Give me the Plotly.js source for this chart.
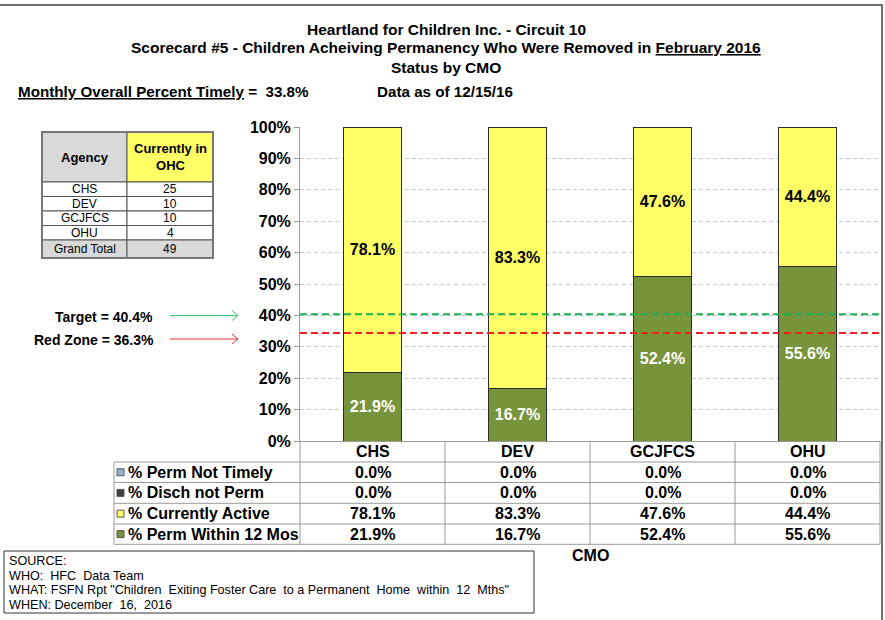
<!DOCTYPE html>
<html>
<head>
<meta charset="utf-8">
<script src="https://cdn.plot.ly/plotly-3.0.1.min.js"></script>
<style>html,body{margin:0;padding:0;background:#fff;}#chart{width:885px;height:620px;}</style>
</head>
<body>
<div id="chart"></div>
<script>
// ---------- DATA ----------
const categories = ['CHS', 'DEV', 'GCJFCS', 'OHU'];
const permWithin12Mos = [21.9, 16.7, 52.4, 55.6];
const currentlyActive = [78.1, 83.3, 47.6, 44.4];
const dischNotPerm = [0.0, 0.0, 0.0, 0.0];
const permNotTimely = [0.0, 0.0, 0.0, 0.0];
const tableRowNames = ['% Perm Not Timely', '% Disch not Perm', '% Currently Active', '% Perm Within 12 Mos'];
const targetValue = 40.4;
const targetLabel = 'Target = 40.4%';
const redZoneValue = 34.4;
const redZoneLabel = 'Red Zone = 36.3%';
const agencies = ['CHS', 'DEV', 'GCJFCS', 'OHU'];
const currentlyInOHC = [25, 10, 10, 4];
const grandTotal = 49;
const overallPercentTimely = 33.8;
const dataAsOf = '12/15/16';
const titleLines = ['Heartland for Children Inc. - Circuit 10',
  'Scorecard #5 - Children Acheiving Permanency Who Were Removed in <u>February 2016</u>',
  'Status by CMO'];
const sourceLines = ['SOURCE:', 'WHO:  HFC  Data Team',
  'WHAT: FSFN Rpt "Children  Exiting Foster Care  to a Permanent  Home  within  12  Mths"',
  'WHEN: December  16,  2016'];

// ---------- STYLE ----------
const FONT = 'Liberation Sans, Arial, sans-serif';
const YELLOW = '#FFFF66', GREEN = '#77933C', LBLUE = '#95B3D7', DARK = '#404040';
const GRID = '#9a9a9a';
// pixel -> paper helpers (plot area x:300..880, y:127..441)
const L = 300, R = 880, T = 127, B = 441;
const X = p => (p - L) / (R - L);
const Y = p => (B - p) / (B - T);

const fmt = v => v.toFixed(1) + '%';

const traces = [
  {type: 'bar', name: tableRowNames[3], x: categories, y: permWithin12Mos,
   marker: {color: GREEN, line: {color: '#2b2b2b', width: 1}},
   texttemplate: '%{y:.1f}%', textposition: 'inside', insidetextanchor: 'middle',
   constraintext: 'none', textangle: 0,
   insidetextfont: {family: FONT, size: 16, color: '#ffffff', weight: 'bold'}},
  {type: 'bar', name: tableRowNames[2], x: categories, y: currentlyActive,
   marker: {color: YELLOW, line: {color: '#2b2b2b', width: 1}},
   texttemplate: '%{y:.1f}%', textposition: 'inside', insidetextanchor: 'middle',
   constraintext: 'none', textangle: 0,
   insidetextfont: {family: FONT, size: 16, color: '#000000', weight: 'bold'}},
  {type: 'bar', name: tableRowNames[1], x: categories, y: dischNotPerm,
   marker: {color: DARK, line: {color: '#2b2b2b', width: 0}}, textposition: 'none'},
  {type: 'bar', name: tableRowNames[0], x: categories, y: permNotTimely,
   marker: {color: LBLUE, line: {color: '#2b2b2b', width: 0}}, textposition: 'none'}
];

const shapes = [];
const annotations = [];

// reference lines
shapes.push({type: 'line', xref: 'paper', yref: 'y', x0: 0, x1: 1, y0: targetValue, y1: targetValue,
  line: {color: '#1DB050', width: 2, dash: '7px,4px'}, layer: 'above'});
shapes.push({type: 'line', xref: 'paper', yref: 'y', x0: 0, x1: 1, y0: redZoneValue, y1: redZoneValue,
  line: {color: '#F02020', width: 2, dash: '7px,4px'}, layer: 'above'});

// arrows
function arrow(yPx, color) {
  const x1 = X(170), x2 = X(238), y = Y(yPx);
  const hx = X(232), hyU = Y(yPx - 5), hyD = Y(yPx + 5);
  shapes.push({type: 'path', xref: 'paper', yref: 'paper',
    path: `M${x1},${y} L${x2},${y} M${hx},${hyU} L${x2},${y} L${hx},${hyD}`,
    line: {color: color, width: 1}});
}
arrow(315.5, '#3CC46A');
arrow(339, '#E83030');
annotations.push({xref: 'paper', yref: 'paper', x: X(155), y: Y(317), xanchor: 'right', yanchor: 'middle',
  text: targetLabel, showarrow: false, font: {family: FONT, size: 14, color: '#000', weight: 'bold'}});
annotations.push({xref: 'paper', yref: 'paper', x: X(156), y: Y(340), xanchor: 'right', yanchor: 'middle',
  text: redZoneLabel, showarrow: false, font: {family: FONT, size: 14, color: '#000', weight: 'bold'}});

// ---------- data table below the plot ----------
const rowLines = [462, 482.5, 503.3, 524, 544.3];
const colLines = [445, 590, 735, 880];
rowLines.forEach(yp => shapes.push({type: 'line', xref: 'paper', yref: 'paper',
  x0: X(114), x1: X(880), y0: Y(yp), y1: Y(yp), line: {color: GRID, width: 1}}));
shapes.push({type: 'line', xref: 'paper', yref: 'paper', x0: X(114), x1: X(114), y0: Y(462), y1: Y(544.3), line: {color: GRID, width: 1}});
shapes.push({type: 'line', xref: 'paper', yref: 'paper', x0: X(300), x1: X(300), y0: Y(441), y1: Y(544.3), line: {color: GRID, width: 1}});
colLines.forEach(xp => shapes.push({type: 'line', xref: 'paper', yref: 'paper',
  x0: X(xp), x1: X(xp), y0: Y(441), y1: Y(544.3), line: {color: GRID, width: 1}}));

// category header row
categories.forEach(c => annotations.push({xref: 'x', yref: 'paper', x: c, y: Y(451.5), xanchor: 'center', yanchor: 'middle',
  text: c, showarrow: false, font: {family: FONT, size: 16, color: '#000', weight: 'bold'}}));

const rowSeries = [permNotTimely, dischNotPerm, currentlyActive, permWithin12Mos];
const rowColors = [LBLUE, DARK, YELLOW, GREEN];
rowSeries.forEach((vals, r) => {
  const yc = (rowLines[r] + rowLines[r + 1]) / 2;
  shapes.push({type: 'rect', xref: 'paper', yref: 'paper', x0: X(117), x1: X(124), y0: Y(yc - 3.5), y1: Y(yc + 3.5),
    fillcolor: rowColors[r], line: {color: '#555', width: 1}});
  annotations.push({xref: 'paper', yref: 'paper', x: X(126), y: Y(yc), xanchor: 'left', yanchor: 'middle',
    text: tableRowNames[r], showarrow: false, font: {family: FONT, size: 16, color: '#000', weight: 'bold'}});
  vals.forEach((v, i) => annotations.push({xref: 'x', yref: 'paper', x: categories[i], y: Y(yc), xanchor: 'center', yanchor: 'middle',
    text: fmt(v), showarrow: false, font: {family: FONT, size: 16, color: '#000', weight: 'bold'}}));
});
annotations.push({xref: 'paper', yref: 'paper', x: 0.5, y: Y(555), xanchor: 'center', yanchor: 'middle', text: 'CMO',
  showarrow: false, font: {family: FONT, size: 16, color: '#000', weight: 'bold'}});

// ---------- titles ----------
[29, 48, 67].forEach((yp, i) => annotations.push({xref: 'paper', yref: 'paper', x: X(446), y: Y(yp),
  xanchor: 'center', yanchor: 'middle', text: titleLines[i], showarrow: false,
  font: {family: FONT, size: 15.5, color: '#000', weight: 'bold'}}));
annotations.push({xref: 'paper', yref: 'paper', x: X(16), y: Y(92), xanchor: 'left', yanchor: 'middle',
  text: '<u>Monthly Overall Percent Timely</u> =  ' + fmt(overallPercentTimely), showarrow: false,
  font: {family: FONT, size: 15.2, color: '#000', weight: 'bold'}});
annotations.push({xref: 'paper', yref: 'paper', x: X(375), y: Y(92), xanchor: 'left', yanchor: 'middle',
  text: 'Data as of ' + dataAsOf, showarrow: false, font: {family: FONT, size: 15.2, color: '#000', weight: 'bold'}});

// ---------- agency table ----------
const tL = 42, tM = 127, tR = 213;
const tRows = [132, 182, 196.5, 211, 225.5, 240, 258];
shapes.push({type: 'rect', xref: 'paper', yref: 'paper', x0: X(tL), x1: X(tM), y0: Y(tRows[0]), y1: Y(tRows[1]),
  fillcolor: '#D9D9D9', line: {color: '#555', width: 1}});
shapes.push({type: 'rect', xref: 'paper', yref: 'paper', x0: X(tM), x1: X(tR), y0: Y(tRows[0]), y1: Y(tRows[1]),
  fillcolor: YELLOW, line: {color: '#555', width: 1}});
for (let r = 1; r < 6; r++) {
  const fill = r === 5 ? '#D9D9D9' : '#FFFFFF';
  shapes.push({type: 'rect', xref: 'paper', yref: 'paper', x0: X(tL), x1: X(tM), y0: Y(tRows[r]), y1: Y(tRows[r + 1]),
    fillcolor: fill, line: {color: '#555', width: 1}});
  shapes.push({type: 'rect', xref: 'paper', yref: 'paper', x0: X(tM), x1: X(tR), y0: Y(tRows[r]), y1: Y(tRows[r + 1]),
    fillcolor: fill, line: {color: '#555', width: 1}});
}
shapes.push({type: 'rect', xref: 'paper', yref: 'paper', x0: X(tL), x1: X(tR), y0: Y(tRows[0]), y1: Y(tRows[6]),
  line: {color: '#777', width: 2}});
annotations.push({xref: 'paper', yref: 'paper', x: X((tL + tM) / 2), y: Y(157), xanchor: 'center', yanchor: 'middle', text: 'Agency',
  showarrow: false, font: {family: FONT, size: 13, color: '#000', weight: 'bold'}});
annotations.push({xref: 'paper', yref: 'paper', x: X((tM + tR) / 2), y: Y(157), xanchor: 'center', yanchor: 'middle', text: 'Currently in<br>OHC',
  showarrow: false, font: {family: FONT, size: 13, color: '#000', weight: 'bold'}});
const tNames = agencies.concat(['Grand Total']);
const tVals = currentlyInOHC.concat([grandTotal]);
tNames.forEach((n, i) => {
  const yc = (tRows[i + 1] + tRows[i + 2]) / 2;
  annotations.push({xref: 'paper', yref: 'paper', x: X((tL + tM) / 2), y: Y(yc), xanchor: 'center', yanchor: 'middle', text: n,
    showarrow: false, font: {family: FONT, size: 12, color: '#000'}});
  annotations.push({xref: 'paper', yref: 'paper', x: X((tM + tR) / 2), y: Y(yc), xanchor: 'center', yanchor: 'middle', text: String(tVals[i]),
    showarrow: false, font: {family: FONT, size: 12, color: '#000'}});
});

// ---------- source box ----------
shapes.push({type: 'rect', xref: 'paper', yref: 'paper', x0: X(4), x1: X(534), y0: Y(551), y1: Y(613),
  fillcolor: '#FFFFFF', line: {color: '#333', width: 1}});
[561, 575.5, 590, 604.5].forEach((yp, i) => annotations.push({xref: 'paper', yref: 'paper', x: X(7), y: Y(yp),
  xanchor: 'left', yanchor: 'middle', text: sourceLines[i], showarrow: false,
  font: {family: FONT, size: 12.6, color: '#000'}}));

// outer frame
shapes.push({type: 'rect', xref: 'paper', yref: 'paper', x0: X(-3), x1: X(882), y0: Y(5), y1: Y(630),
  line: {color: '#6e6e6e', width: 2}});

const layout = {
  width: 885, height: 620,
  margin: {l: L, r: 885 - R, t: T, b: 620 - B, pad: 0},
  paper_bgcolor: '#FFFFFF', plot_bgcolor: '#FFFFFF',
  barmode: 'stack', bargap: 0.6, showlegend: false,
  font: {family: FONT, color: '#000'},
  xaxis: {type: 'category', showticklabels: false, ticks: '', showgrid: false, showline: true,
    linecolor: GRID, linewidth: 1, zeroline: false, fixedrange: true},
  yaxis: {range: [0, 100], dtick: 10, ticksuffix: '%', ticks: 'outside', ticklen: 5, tickcolor: '#999',
    tickfont: {family: FONT, size: 16, color: '#000', weight: 'bold'}, showline: true, linecolor: '#999',
    linewidth: 1, showgrid: true, gridcolor: '#c8c8c8', griddash: '4px,3px', gridwidth: 1, zeroline: false,
    fixedrange: true},
  shapes: shapes, annotations: annotations, hovermode: false
};

Plotly.newPlot('chart', traces, layout, {staticPlot: true, displayModeBar: false});
</script>
</body>
</html>
